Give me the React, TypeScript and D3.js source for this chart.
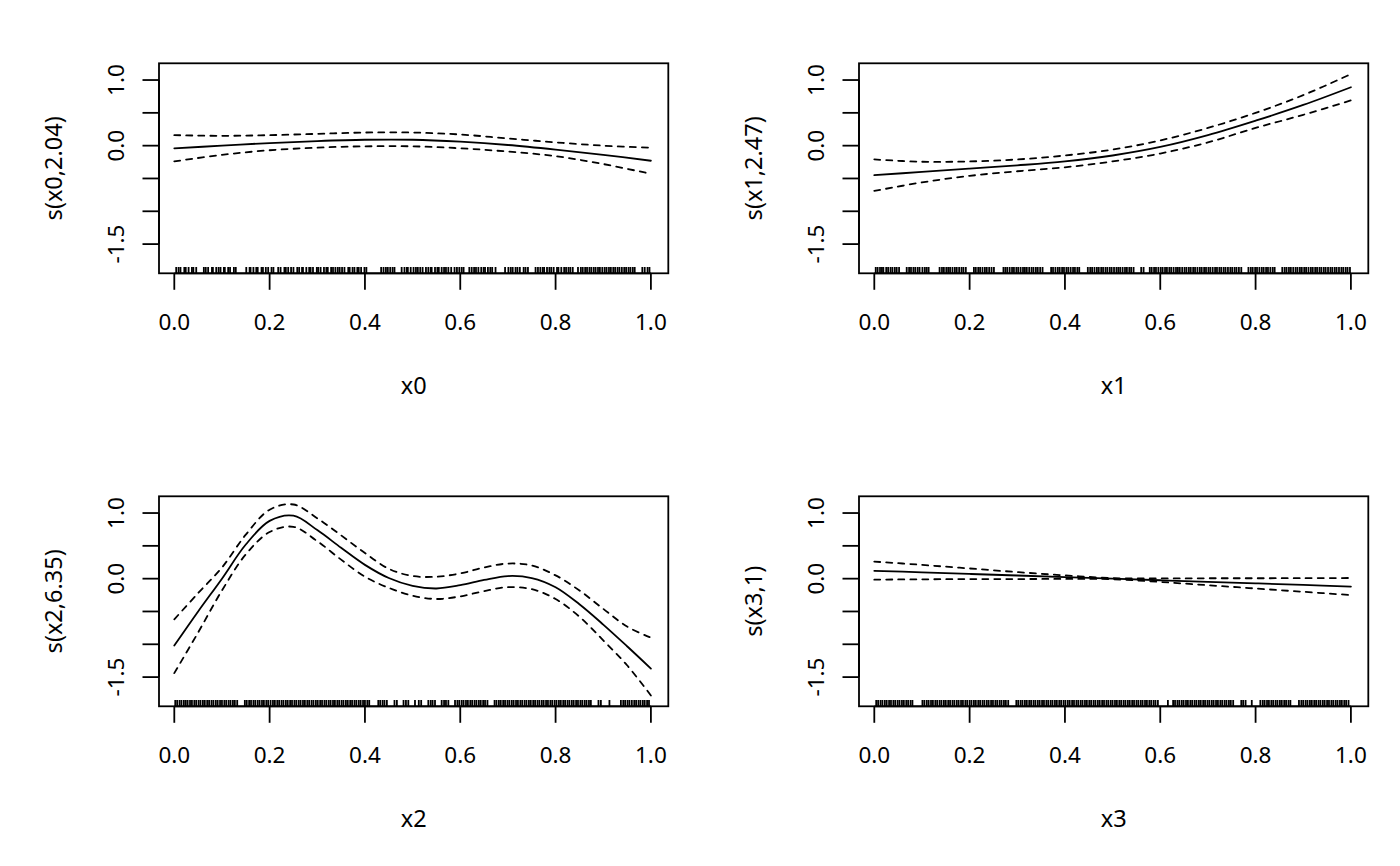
import React from 'react';
import * as d3 from 'd3';

const W = 1400;
const H = 866;

// evaluation grids
const gridTenth = [0, 0.1, 0.2, 0.3, 0.4, 0.5, 0.6, 0.7, 0.8, 0.9, 1.0];
const gridTwentieth = [0, 0.05, 0.1, 0.15, 0.2, 0.25, 0.3, 0.35, 0.4, 0.45, 0.5, 0.55, 0.6, 0.65, 0.7, 0.75, 0.8, 0.85, 0.9, 0.95, 1.0];

// s(x0, 2.04)
const fitX0 = [-0.04, 0.0, 0.04, 0.07, 0.09, 0.09, 0.06, 0.01, -0.06, -0.14, -0.23];
const upX0 = [0.16, 0.15, 0.16, 0.18, 0.2, 0.2, 0.17, 0.11, 0.05, 0.0, -0.03];
const loX0 = [-0.24, -0.14, -0.07, -0.03, -0.01, -0.01, -0.04, -0.09, -0.16, -0.28, -0.43];

// s(x1, 2.47)
const fitX1 = [-0.45, -0.4, -0.35, -0.3, -0.24, -0.15, -0.02, 0.16, 0.38, 0.62, 0.89];
const upX1 = [-0.21, -0.245, -0.24, -0.21, -0.15, -0.06, 0.08, 0.27, 0.5, 0.77, 1.09];
const loX1 = [-0.69, -0.56, -0.46, -0.39, -0.33, -0.24, -0.12, 0.05, 0.27, 0.47, 0.69];

// s(x2, 6.35)
const fitX2 = [-1.02, -0.5, 0.0, 0.52, 0.88, 0.96, 0.74, 0.47, 0.21, 0.01, -0.11, -0.15, -0.1, -0.02, 0.04, 0.01, -0.13, -0.39, -0.7, -1.03, -1.37];
const upX2 = [-0.62, -0.22, 0.17, 0.67, 1.05, 1.13, 0.92, 0.66, 0.39, 0.15, 0.04, 0.03, 0.08, 0.17, 0.23, 0.2, 0.05, -0.18, -0.46, -0.73, -0.9];
const loX2 = [-1.44, -0.82, -0.18, 0.37, 0.71, 0.79, 0.57, 0.29, 0.03, -0.14, -0.26, -0.31, -0.27, -0.19, -0.13, -0.16, -0.31, -0.58, -0.94, -1.32, -1.78];

// s(x3, 1)
const fitX3 = [0.12, 0.096, 0.072, 0.048, 0.024, 0.0, -0.024, -0.048, -0.072, -0.096, -0.12];
const upX3 = [0.26, 0.21, 0.155, 0.1, 0.05, 0.008, 0.003, 0.006, 0.006, 0.008, 0.01];
const loX3 = [-0.015, -0.01, -0.006, -0.006, -0.004, -0.008, -0.05, -0.1, -0.15, -0.2, -0.25];

// rug (observed covariate values)
const rugX0 = [0.004,0.009,0.013,0.021,0.024,0.030,0.037,0.040,0.046,0.062,0.066,0.071,0.079,0.081,0.088,0.093,0.097,0.104,0.106,0.113,0.117,0.125,0.129,0.151,0.158,0.160,0.166,0.172,0.175,0.183,0.186,0.192,0.197,0.204,0.208,0.218,0.223,0.231,0.234,0.239,0.245,0.250,0.258,0.262,0.268,0.270,0.277,0.283,0.286,0.291,0.299,0.302,0.307,0.314,0.319,0.322,0.329,0.333,0.338,0.343,0.347,0.352,0.357,0.365,0.368,0.374,0.378,0.384,0.387,0.392,0.399,0.403,0.434,0.439,0.444,0.448,0.453,0.458,0.462,0.477,0.483,0.488,0.490,0.496,0.502,0.507,0.511,0.516,0.521,0.528,0.533,0.538,0.540,0.547,0.552,0.555,0.561,0.566,0.570,0.575,0.581,0.588,0.593,0.598,0.603,0.607,0.619,0.624,0.629,0.633,0.638,0.644,0.649,0.652,0.658,0.663,0.667,0.674,0.694,0.701,0.706,0.710,0.716,0.720,0.725,0.733,0.737,0.742,0.758,0.763,0.768,0.773,0.776,0.782,0.787,0.791,0.796,0.803,0.806,0.812,0.818,0.822,0.827,0.831,0.836,0.847,0.853,0.857,0.862,0.866,0.871,0.875,0.880,0.884,0.889,0.893,0.898,0.903,0.907,0.912,0.916,0.921,0.925,0.930,0.934,0.939,0.944,0.948,0.953,0.957,0.962,0.966,0.982,0.987,0.993,0.997];
const rugX1 = [0.003,0.007,0.012,0.016,0.019,0.025,0.029,0.034,0.038,0.043,0.047,0.052,0.068,0.073,0.077,0.082,0.086,0.091,0.095,0.101,0.106,0.110,0.114,0.137,0.142,0.146,0.151,0.155,0.159,0.164,0.169,0.173,0.178,0.183,0.187,0.192,0.209,0.213,0.218,0.222,0.227,0.232,0.236,0.241,0.246,0.251,0.271,0.275,0.279,0.284,0.289,0.293,0.298,0.302,0.307,0.312,0.316,0.320,0.325,0.330,0.334,0.339,0.343,0.348,0.353,0.371,0.375,0.380,0.385,0.389,0.394,0.398,0.403,0.407,0.412,0.417,0.421,0.426,0.430,0.448,0.453,0.457,0.462,0.467,0.471,0.476,0.480,0.485,0.489,0.494,0.498,0.503,0.508,0.512,0.516,0.521,0.526,0.530,0.535,0.539,0.544,0.560,0.565,0.578,0.582,0.587,0.591,0.596,0.601,0.605,0.610,0.614,0.619,0.623,0.628,0.633,0.637,0.641,0.646,0.651,0.655,0.660,0.664,0.669,0.673,0.678,0.683,0.687,0.692,0.696,0.701,0.705,0.710,0.715,0.719,0.724,0.728,0.733,0.737,0.742,0.747,0.751,0.756,0.760,0.765,0.770,0.785,0.790,0.794,0.799,0.803,0.808,0.813,0.817,0.822,0.826,0.831,0.836,0.840,0.856,0.861,0.865,0.870,0.874,0.879,0.884,0.888,0.893,0.897,0.902,0.906,0.911,0.916,0.920,0.925,0.929,0.934,0.938,0.943,0.947,0.952,0.957,0.961,0.966,0.970,0.975,0.980,0.984,0.989,0.993,0.998];
const rugX2 = [0.002,0.006,0.011,0.015,0.020,0.024,0.028,0.033,0.037,0.042,0.046,0.051,0.055,0.060,0.064,0.069,0.073,0.078,0.082,0.087,0.091,0.096,0.100,0.105,0.109,0.114,0.118,0.123,0.127,0.132,0.148,0.152,0.157,0.161,0.166,0.170,0.175,0.179,0.184,0.188,0.193,0.197,0.202,0.207,0.211,0.216,0.220,0.225,0.229,0.234,0.238,0.243,0.247,0.252,0.256,0.261,0.265,0.270,0.274,0.279,0.283,0.288,0.292,0.297,0.301,0.306,0.310,0.315,0.319,0.324,0.328,0.333,0.337,0.342,0.346,0.351,0.355,0.360,0.364,0.369,0.373,0.378,0.382,0.387,0.391,0.396,0.400,0.405,0.409,0.428,0.432,0.437,0.441,0.446,0.462,0.467,0.481,0.486,0.491,0.505,0.513,0.518,0.533,0.538,0.542,0.547,0.561,0.566,0.570,0.575,0.589,0.594,0.598,0.603,0.607,0.612,0.616,0.621,0.625,0.630,0.634,0.639,0.643,0.648,0.652,0.657,0.672,0.676,0.681,0.685,0.690,0.694,0.699,0.703,0.708,0.712,0.717,0.721,0.726,0.730,0.735,0.739,0.744,0.748,0.753,0.757,0.762,0.766,0.771,0.775,0.780,0.784,0.789,0.793,0.798,0.802,0.807,0.811,0.816,0.820,0.825,0.829,0.834,0.838,0.843,0.847,0.852,0.856,0.861,0.865,0.870,0.874,0.890,0.895,0.913,0.937,0.942,0.946,0.951,0.955,0.960,0.965,0.969,0.974,0.978,0.983,0.987,0.992,0.996];
const rugX3 = [0.004,0.008,0.013,0.017,0.022,0.026,0.031,0.035,0.040,0.044,0.049,0.053,0.058,0.062,0.067,0.071,0.076,0.080,0.101,0.105,0.110,0.114,0.119,0.123,0.128,0.132,0.137,0.141,0.146,0.150,0.155,0.159,0.164,0.168,0.173,0.177,0.182,0.186,0.191,0.195,0.200,0.204,0.209,0.213,0.218,0.222,0.227,0.231,0.236,0.240,0.245,0.249,0.254,0.258,0.263,0.267,0.272,0.276,0.281,0.298,0.302,0.307,0.311,0.316,0.320,0.325,0.329,0.334,0.338,0.343,0.347,0.352,0.356,0.361,0.365,0.370,0.374,0.379,0.383,0.388,0.392,0.397,0.401,0.406,0.410,0.415,0.419,0.424,0.428,0.433,0.437,0.442,0.446,0.451,0.455,0.460,0.464,0.469,0.473,0.478,0.482,0.487,0.491,0.496,0.500,0.505,0.509,0.514,0.518,0.523,0.527,0.532,0.536,0.541,0.545,0.550,0.554,0.559,0.563,0.568,0.572,0.577,0.581,0.586,0.590,0.595,0.616,0.627,0.631,0.636,0.640,0.645,0.649,0.654,0.658,0.663,0.667,0.672,0.676,0.681,0.685,0.690,0.694,0.699,0.703,0.708,0.712,0.717,0.721,0.726,0.730,0.735,0.739,0.744,0.748,0.753,0.770,0.774,0.779,0.792,0.810,0.815,0.819,0.824,0.828,0.833,0.837,0.842,0.846,0.851,0.855,0.860,0.864,0.869,0.873,0.891,0.896,0.900,0.905,0.909,0.914,0.918,0.923,0.927,0.932,0.936,0.941,0.945,0.950,0.954,0.959,0.963,0.968,0.972,0.977,0.981,0.986,0.990,0.995];

// axes
const xTicks = [0, 0.2, 0.4, 0.6, 0.8, 1.0];
const yTicks = [1.0, 0.5, 0.0, -0.5, -1.0, -1.5];
const yLabelledTicks = [1.0, 0.0, -1.5];
const xLim = [-0.0321, 1.0365];
const yLim = [-1.945, 1.255];

type PanelSpec = {
  xlab: string;
  ylab: string;
  xs: number[];
  fit: number[];
  upper: number[];
  lower: number[];
  rug: number[];
  col: number;
  row: number;
};

const panels: PanelSpec[] = [
  { xlab: 'x0', ylab: 's(x0,2.04)', xs: gridTenth, fit: fitX0, upper: upX0, lower: loX0, rug: rugX0, col: 0, row: 0 },
  { xlab: 'x1', ylab: 's(x1,2.47)', xs: gridTenth, fit: fitX1, upper: upX1, lower: loX1, rug: rugX1, col: 1, row: 0 },
  { xlab: 'x2', ylab: 's(x2,6.35)', xs: gridTwentieth, fit: fitX2, upper: upX2, lower: loX2, rug: rugX2, col: 0, row: 1 },
  { xlab: 'x3', ylab: 's(x3,1)', xs: gridTenth, fit: fitX3, upper: upX3, lower: loX3, rug: rugX3, col: 1, row: 1 },
];

const FONT = '"Noto Sans", "Open Sans", sans-serif';
const FS_TICK = 22.5;
const FS_LAB = 23.5;
const CELL_W = 700;
const CELL_H = 433;
const BOX_L = 159;
const BOX_R = 668.3;
const BOX_T = 63.3;
const BOX_B = 273.3;
const LW = 1.8;

function Panel({ p }: { p: PanelSpec }) {
  const x = d3.scaleLinear().domain(xLim).range([BOX_L, BOX_R]);
  const y = d3.scaleLinear().domain(yLim).range([BOX_B, BOX_T]);
  const line = d3
    .line<number>()
    .x((_, i) => x(p.xs[i]))
    .y((d) => y(d))
    .curve(d3.curveCatmullRom.alpha(0.5));
  const ox = p.col * CELL_W;
  const oy = p.row * CELL_H;
  const cx = (BOX_L + BOX_R) / 2;
  const cy = (BOX_T + BOX_B) / 2;
  const tick = 16.5;
  return (
    <g transform={`translate(${ox},${oy})`}>
      {/* rug */}
      <g stroke="#000" strokeWidth={1.8}>
        {p.rug.map((v, i) => (
          <line key={i} x1={x(v)} x2={x(v)} y1={BOX_B} y2={BOX_B - 6.3} />
        ))}
      </g>
      {/* curves */}
      <path d={line(p.fit) || ''} fill="none" stroke="#000" strokeWidth={LW} strokeLinecap="round" />
      <path d={line(p.upper) || ''} fill="none" stroke="#000" strokeWidth={LW} strokeDasharray="6 6" strokeLinecap="round" />
      <path d={line(p.lower) || ''} fill="none" stroke="#000" strokeWidth={LW} strokeDasharray="6 6" strokeLinecap="round" />
      {/* box */}
      <rect x={BOX_L} y={BOX_T} width={BOX_R - BOX_L} height={BOX_B - BOX_T} fill="none" stroke="#000" strokeWidth={LW} />
      {/* x axis */}
      <g stroke="#000" strokeWidth={LW}>
        <line x1={x(xTicks[0])} x2={x(xTicks[xTicks.length - 1])} y1={BOX_B} y2={BOX_B} />
        {xTicks.map((t) => (
          <line key={t} x1={x(t)} x2={x(t)} y1={BOX_B} y2={BOX_B + tick} />
        ))}
      </g>
      {xTicks.map((t) => (
        <text key={t} x={x(t)} y={330} textAnchor="middle" fontFamily={FONT} fontSize={FS_TICK} fill="#000">
          {d3.format('.1f')(t)}
        </text>
      ))}
      {/* y axis */}
      <g stroke="#000" strokeWidth={LW}>
        <line x1={BOX_L} x2={BOX_L} y1={y(yTicks[0])} y2={y(yTicks[yTicks.length - 1])} />
        {yTicks.map((t) => (
          <line key={t} x1={BOX_L - tick} x2={BOX_L} y1={y(t)} y2={y(t)} />
        ))}
      </g>
      {yLabelledTicks.map((t) => (
        <text
          key={t}
          transform={`translate(123.5,${y(t)}) rotate(-90)`}
          textAnchor="middle"
          fontFamily={FONT}
          fontSize={FS_TICK}
          fill="#000"
        >
          {d3.format('.1f')(t).replace('−', '-')}
        </text>
      ))}
      {/* axis titles */}
      <text x={cx} y={394} textAnchor="middle" fontFamily={FONT} fontSize={FS_LAB} fill="#000">
        {p.xlab}
      </text>
      <text transform={`translate(61.5,${cy}) rotate(-90)`} textAnchor="middle" fontFamily={FONT} fontSize={FS_LAB} fill="#000">
        {p.ylab}
      </text>
    </g>
  );
}

export default function App() {
  return (
    <svg
      width={W}
      height={H}
      viewBox={`0 0 ${W} ${H}`}
      style={{ position: 'absolute', left: 0, top: 0, background: '#fff' }}
    >
      <rect width={W} height={H} fill="#fff" />
      {panels.map((p, i) => (
        <Panel key={i} p={p} />
      ))}
    </svg>
  );
}
